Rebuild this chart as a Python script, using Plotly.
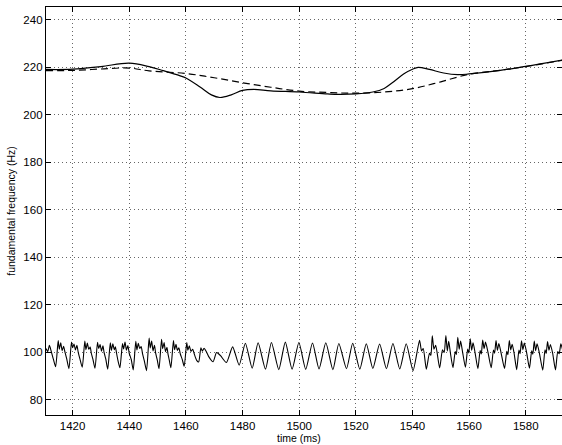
import plotly.graph_objects as go

# fundamental frequency contours (Hz) vs time (ms)
f0_time = [1410.6, 1420, 1430, 1440, 1447, 1452, 1458, 1460, 1465, 1469, 1472, 1476,
           1480, 1484, 1490, 1500, 1510, 1514, 1520, 1526, 1530, 1533, 1537, 1540,
           1542, 1546, 1551, 1556, 1560, 1571, 1580, 1593]
f0_solid = [219.0, 219.1, 220.2, 221.7, 220.2, 218.5, 216.3, 215.4, 211.6, 208.3, 207.2, 208.3,
            210.2, 210.6, 210.0, 209.5, 208.7, 208.5, 208.7, 209.5, 211.0, 213.5, 217.2, 219.1,
            219.9, 219.0, 217.5, 216.8, 217.1, 218.6, 220.3, 223.0]

dash_time = [1410.6, 1420, 1430, 1440, 1447, 1460, 1470, 1480, 1490, 1500, 1510, 1520,
             1530, 1540, 1550, 1560, 1570, 1580, 1593]
f0_dashed = [218.5, 218.6, 219.2, 219.6, 218.4, 217.3, 215.5, 213.4, 211.5, 209.9, 209.3, 209.0,
             209.5, 210.9, 213.8, 217.0, 218.5, 220.2, 222.9]

# waveform trace (offset to ~100 on the same axis)
wave_time = [
    1410.6, 1411.2, 1411.8, 1412.4, 1413.2,
    1414.0, 1414.9, 1415.3, 1415.8, 1416.3, 1416.8, 1417.3, 1417.9,
    1418.7, 1419.6, 1420.0, 1420.5, 1421.0, 1421.5, 1422.0, 1422.6,
    1423.4, 1424.3, 1424.7, 1425.2, 1425.7, 1426.2, 1426.6, 1427.2,
    1427.9, 1428.8, 1429.2, 1429.7, 1430.2, 1430.7, 1431.1, 1431.7,
    1432.4, 1433.3, 1433.7, 1434.2, 1434.7, 1435.1, 1435.5, 1436.0,
    1436.7, 1437.6, 1438.0, 1438.5, 1439.0, 1439.5, 1440.0, 1440.7,
    1441.4, 1442.3, 1442.7, 1443.2, 1443.7, 1444.2, 1444.7, 1445.3,
    1446.1, 1447.0, 1447.4, 1447.9, 1448.4, 1448.9, 1449.3, 1449.9,
    1450.5, 1451.4, 1451.8, 1452.3, 1452.8, 1453.3, 1453.7, 1454.1,
    1454.7, 1455.6, 1456.0, 1456.5, 1457.0, 1457.5, 1458.0, 1458.7,
    1459.4, 1460.3, 1460.7, 1461.2, 1461.8, 1462.4, 1463.0, 1463.8,
    1464.5, 1465.3, 1465.8, 1466.4, 1467.2, 1468.0, 1469.6, 1470.8, 1471.6, 1472.3,
    1474.3, 1476.5, 1478.8, 1481.0, 1483.4, 1485.5, 1488.1, 1490.2, 1492.8, 1495.1,
    1497.5, 1499.9, 1502.3, 1504.7, 1507.0, 1509.4, 1511.9, 1514.0, 1516.7, 1518.9,
    1521.4, 1523.7, 1526.0, 1528.4, 1530.8, 1533.1, 1535.5, 1537.8,
    1540.2, 1542.5, 1543.2, 1543.8, 1544.9, 1546.0, 1546.5, 1547.0, 1547.6, 1548.2,
    1549.6, 1550.6, 1551.2, 1551.8, 1552.3, 1552.8, 1553.4,
    1554.3, 1555.1, 1555.5, 1556.0, 1556.5, 1557.0, 1557.7,
    1558.7, 1559.5, 1559.9, 1560.4, 1560.9, 1561.4, 1562.1,
    1563.1, 1563.9, 1564.3, 1564.8, 1565.3, 1565.8, 1566.6,
    1567.8, 1568.6, 1569.0, 1569.5, 1570.0, 1570.5, 1571.3,
    1572.5, 1573.3, 1573.7, 1574.2, 1574.7, 1575.2, 1575.9,
    1576.8, 1577.6, 1578.0, 1578.5, 1579.0, 1579.5, 1580.3,
    1581.3, 1582.1, 1582.5, 1583.0, 1583.5, 1584.0, 1584.8,
    1586.0, 1586.8, 1587.2, 1587.7, 1588.2, 1588.7, 1589.5,
    1590.5, 1591.3, 1591.8, 1592.4, 1593.0,
]
wave_value = [
    101.5, 100.2, 102.8, 100.5, 97.0,
    93.8, 104.8, 101.2, 103.9, 100.6, 102.4, 100.0, 97.2,
    93.0, 104.2, 101.8, 103.4, 100.9, 102.8, 99.8, 97.0,
    93.6, 104.6, 101.0, 103.8, 101.2, 102.1, 99.5, 96.8,
    93.2, 104.1, 101.5, 103.2, 100.4, 102.6, 99.9, 97.1,
    92.8, 103.9, 100.7, 103.5, 101.0, 102.2, 99.6, 96.5,
    93.4, 103.6, 101.3, 104.2, 100.8, 102.7, 99.4, 96.9,
    92.5, 104.5, 100.9, 103.7, 101.5, 102.3, 99.2, 96.4,
    92.2, 105.9, 101.7, 104.6, 100.5, 102.9, 99.7, 96.6,
    93.0, 105.4, 101.4, 104.0, 100.2, 102.0, 99.0, 96.8,
    93.4, 104.9, 101.0, 103.3, 100.7, 101.8, 99.3, 96.9,
    94.0, 104.0, 100.8, 102.6, 100.3, 101.2, 99.0, 96.5,
    95.8, 101.8, 100.4, 101.6, 100.2, 98.2, 95.9, 99.8, 99.2, 98.4,
    95.6, 102.2, 94.5, 103.7, 93.2, 103.9, 92.8, 104.0, 92.6, 104.2,
    92.8, 104.0, 92.7, 103.8, 92.9, 103.9, 92.6, 103.6, 93.0, 103.7,
    92.8, 103.5, 93.1, 103.4, 93.0, 103.6, 92.9, 103.5,
    92.2, 105.0, 100.5, 101.5, 92.8, 99.5, 98.6, 106.8, 101.2, 102.8,
    93.3, 101.0, 99.8, 107.0, 100.5, 104.5, 99.6,
    93.4, 100.2, 99.0, 106.2, 101.2, 104.6, 100.0,
    93.6, 101.3, 99.6, 105.6, 100.8, 103.9, 99.8,
    93.0, 100.6, 99.2, 105.1, 101.4, 104.2, 100.3,
    93.4, 100.9, 99.5, 104.8, 100.7, 103.6, 99.6,
    93.1, 100.3, 98.9, 104.9, 100.9, 103.3, 99.4,
    92.6, 100.8, 99.3, 104.7, 101.0, 103.8, 99.9,
    93.2, 100.5, 99.1, 104.6, 100.6, 103.5, 99.7,
    92.4, 101.0, 99.4, 104.4, 100.8, 103.2, 99.5,
    92.5, 100.2, 99.3, 103.5, 101.0,
]

x_ticks = [1420, 1440, 1460, 1480, 1500, 1520, 1540, 1560, 1580]
y_ticks = [80, 100, 120, 140, 160, 180, 200, 220, 240]

FONT = "Liberation Sans, Arial, sans-serif"

fig = go.Figure()
fig.add_trace(go.Scatter(x=wave_time, y=wave_value, mode="lines",
                         line=dict(color="black", width=1.1, shape="spline", smoothing=0.6)))
fig.add_trace(go.Scatter(x=dash_time, y=f0_dashed, mode="lines",
                         line=dict(color="black", width=1.2, dash="7px,4px", shape="spline")))
fig.add_trace(go.Scatter(x=f0_time, y=f0_solid, mode="lines",
                         line=dict(color="black", width=1.2, shape="spline")))

axis_common = dict(showline=True, linecolor="black", linewidth=1.3, mirror="ticks",
                   ticks="inside", ticklen=5, tickcolor="black",
                   showgrid=True, gridcolor="#666666", griddash="1px,3px", gridwidth=1,
                   zeroline=False,
                   tickfont=dict(family=FONT, size=11.5, color="black"))

fig.update_layout(
    width=562, height=445,
    margin=dict(l=46, r=0, t=7, b=30),
    paper_bgcolor="white", plot_bgcolor="white",
    showlegend=False,
    xaxis=dict(range=[1410.6, 1592.8], tickvals=x_ticks, **axis_common),
    yaxis=dict(range=[73.5, 245.3], tickvals=y_ticks,
               title=dict(text="fundamental frequency (Hz)", standoff=5,
                          font=dict(family=FONT, size=10.5, color="black")),
               **axis_common),
    annotations=[dict(text="time (ms)", x=1500, xref="x", y=0, yref="paper",
                      yanchor="top", yshift=-15, showarrow=False,
                      font=dict(family=FONT, size=10.5, color="black"))],
)

fig.write_html("out.html")
